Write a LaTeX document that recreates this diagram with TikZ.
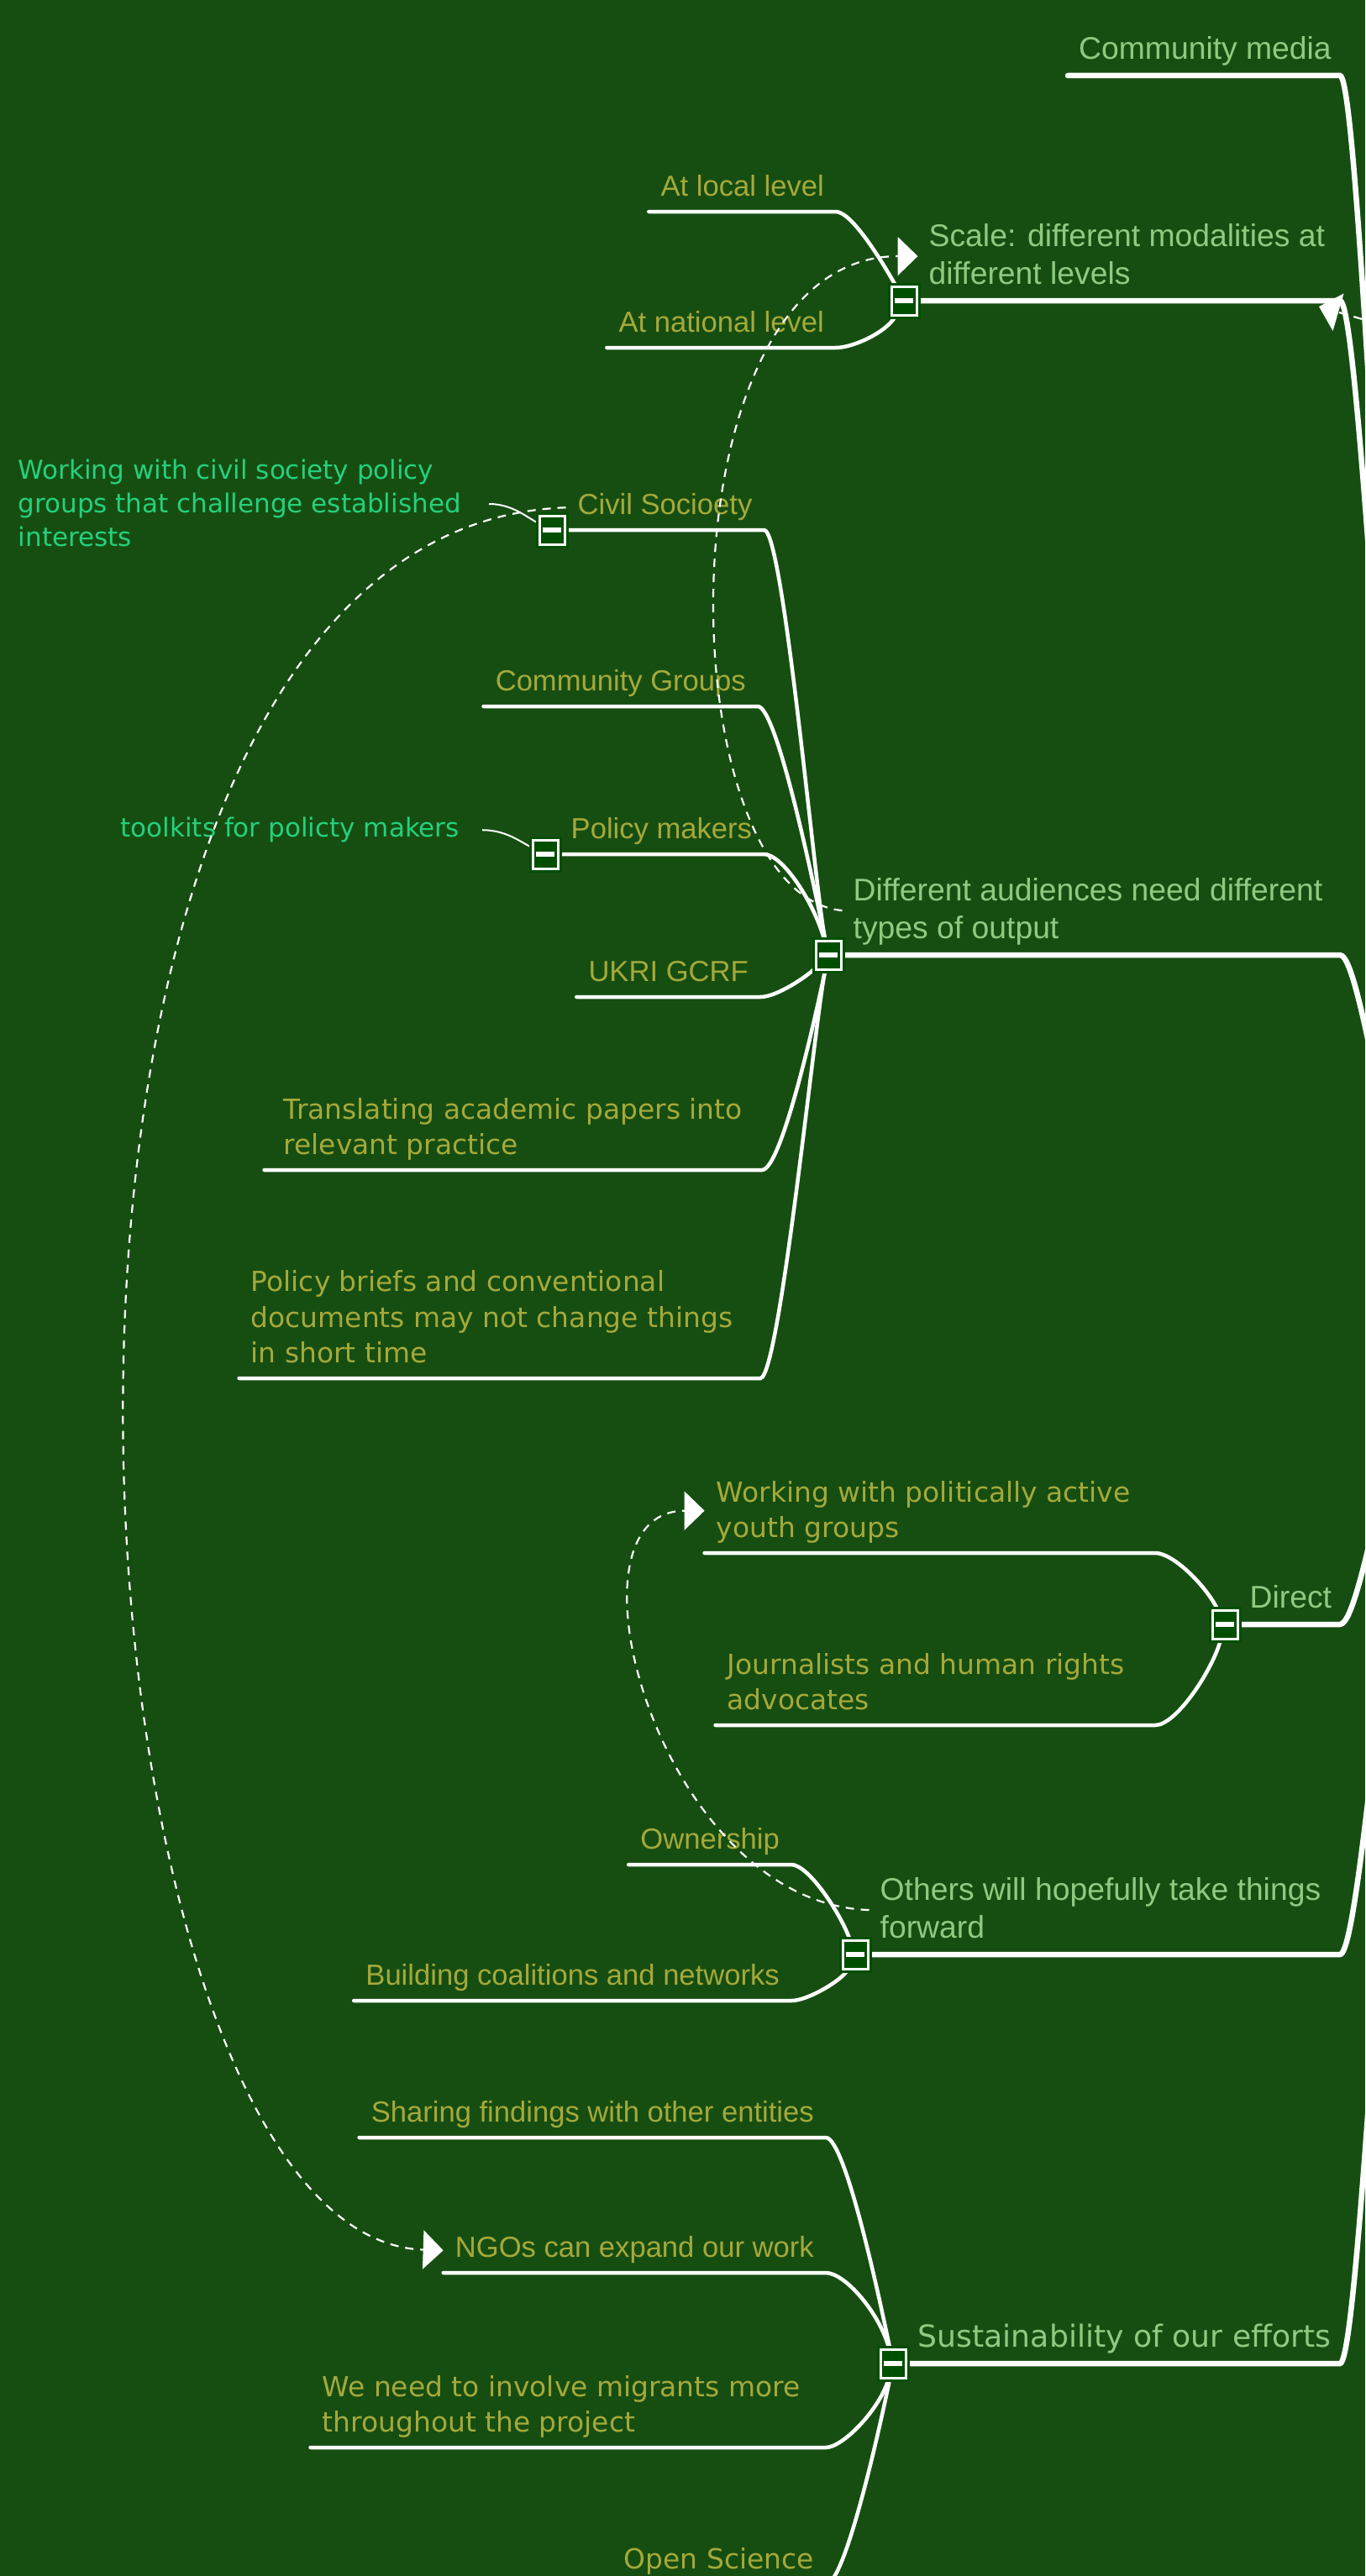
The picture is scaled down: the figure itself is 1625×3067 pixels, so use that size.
\documentclass[tikz,border=0pt]{standalone}
\usepackage{fontspec}
\usetikzlibrary{arrows.meta}
\newfontfamily\arialfont{Liberation Sans}
\newfontfamily\lucidafont{DejaVu Sans}
\definecolor{mapbg}{HTML}{164E12}
\definecolor{maintext}{HTML}{8ECB82}
\definecolor{subtext}{HTML}{A5A93A}
\definecolor{notetext}{HTML}{26D07C}
\definecolor{boxfill}{HTML}{004F00}
\newcommand{\topiclines}[1]{\begin{tabular}[b]{@{}l@{}}#1\end{tabular}}
\newcommand{\widelines}[2]{\begin{tabular}[b]{@{}p{#1}@{}}#2\end{tabular}}
\newcommand{\minus}{\textcolor{white}{\rule{22pt}{6pt}}}
\pgfdeclarelayer{back}
\pgfdeclarelayer{links}
\pgfsetlayers{back,links,main}
\tikzset{
  mainfont/.style={font=\arialfont\fontsize{37.3}{45}\selectfont},
  mainfontb/.style={font=\lucidafont\fontsize{36.2}{44}\selectfont},
  subfont/.style={font=\arialfont\fontsize{34.6}{42}\selectfont},
  subfontb/.style={font=\lucidafont\fontsize{32.9}{42.5}\selectfont},
  notefont/.style={font=\lucidafont\fontsize{31}{40}\selectfont},
  main/.style={text=maintext, inner xsep=13pt, inner ysep=10pt, text depth=9pt},
  sub/.style={text=subtext, inner xsep=14pt, inner ysep=10pt, text depth=8pt},
  note/.style={notefont, text=notetext, inner xsep=27pt, inner ysep=10pt, text depth=8pt},
  fold/.style={draw=white, line width=3pt, fill=boxfill, minimum width=30pt, minimum height=34pt, inner sep=0pt, preaction={draw=boxfill, line width=9pt}},
  mainline/.style={draw=white, line width=6.5pt, line cap=round},
  subline/.style={draw=white, line width=4.5pt, line cap=round},
  noteline/.style={draw=white, line width=2pt},
  rel/.style={draw=white, line width=2.2pt, dash pattern=on 10pt off 8pt, -{Triangle[width=46pt,length=24pt]}}
}
\begin{document}
\begin{tikzpicture}[x=1pt, y=-1pt]
    \begin{pgfonlayer}{back}
        \fill[mapbg] (0,0) rectangle (1625,3067);
    \end{pgfonlayer}
    \useasboundingbox (0,0) rectangle (1625,3067);
    \coordinate (edge) at (1595,0);
    \coordinate (root) at (1722,1560);
    \coordinate (scaletip) at (1570,365);
    \coordinate (offright) at (1690,400);

    \node[main, mainfont, anchor=south west] (media) at (1271,90) {Community media};

    \node[fold] (scalebox) at (1076,358) {\minus};
    \node[main, mainfont, anchor=south west] (scale) at (scalebox.east) {\topiclines{Scale: different modalities at\\different levels}};
    \node[sub, subfont, anchor=south east] (local) at (995,252) {At local level};
    \node[sub, subfont, anchor=south east] (national) at (995,414) {At national level};

    \node[fold] (diffbox) at (986,1137) {\minus};
    \node[main, mainfont, anchor=south west] (diff) at (diffbox.east) {\topiclines{Different audiences need different\\types of output}};
    \node[fold] (civilbox) at (657,631) {\minus};
    \node[sub, subfont, anchor=south west] (civil) at (civilbox.east) {Civil Socioety};
    \node[note, anchor=base east] (civilnote) at (582,650) {\widelines{533pt}{Working with civil society policy\\groups that challenge established\\interests}};
    \node[sub, subfont, anchor=south east] (groups) at (902,841) {Community Groups};
    \node[fold] (policybox) at (649,1017) {\minus};
    \node[sub, subfont, anchor=south west] (policy) at (policybox.east) {Policy makers};
    \node[note, anchor=base east] (toolnote) at (574,996) {toolkits for policty makers};
    \node[sub, subfont, anchor=south east] (ukri) at (905,1187) {UKRI GCRF};
    \node[sub, subfontb, anchor=south east, inner xsep=23pt] (translate) at (907,1393) {\topiclines{Translating academic papers into\\relevant practice}};
    \node[sub, subfontb, anchor=south east] (briefs) at (905,1641) {\widelines{592pt}{Policy briefs and conventional\\documents may not change things\\in short time}};

    \node[fold] (directbox) at (1458,1934) {\minus};
    \node[main, mainfont, anchor=south west] (direct) at (directbox.east) {Direct};
    \node[sub, subfontb, anchor=south east] (youth) at (1375,1849) {\widelines{508pt}{Working with politically active\\youth groups}};
    \node[sub, subfontb, anchor=south east] (press) at (1375,2054) {\widelines{495pt}{Journalists and human rights\\advocates}};

    \node[fold] (othersbox) at (1018,2327) {\minus};
    \node[main, mainfont, anchor=south west] (others) at (othersbox.east) {\topiclines{Others will hopefully take things\\forward}};
    \node[sub, subfont, anchor=south east] (owner) at (942,2220) {Ownership};
    \node[sub, subfont, anchor=south east] (coalition) at (942,2382) {Building coalitions and networks};

    \node[fold] (sustbox) at (1063,2814) {\minus};
    \node[main, mainfontb, anchor=south west] (sust) at (sustbox.east) {Sustainability of our efforts};
    \node[sub, subfont, anchor=south east] (sharing) at (983,2545) {Sharing findings with other entities};
    \node[sub, subfont, anchor=south east] (ngos) at (983,2706) {NGOs can expand our work};
    \node[sub, subfontb, anchor=south east] (migrants) at (983,2914) {\widelines{585pt}{We need to involve migrants more\\throughout the project}};
    \node[sub, subfontb, anchor=south east] (science) at (983,3077) {Open Science};

    \begin{pgfonlayer}{links}
        \draw[mainline] (media.south west) -- (media.south west -| edge) .. controls +(30,0) and +(-50,0) .. (root);
        \draw[mainline] (scale.south west) -- (scale.south west -| edge) .. controls +(30,0) and +(-50,0) .. (root);
        \draw[mainline] (diff.south west) -- (diff.south west -| edge) .. controls +(30,0) and +(-50,0) .. (root);
        \draw[mainline] (direct.south west) -- (direct.south west -| edge) .. controls +(30,0) and +(-50,0) .. (root);
        \draw[mainline] (others.south west) -- (others.south west -| edge) .. controls +(30,0) and +(-50,0) .. (root);
        \draw[mainline] (sust.south west) -- (sust.south west -| edge) .. controls +(30,0) and +(-50,0) .. (root);

        \draw[subline] (local.south west) -- (local.south east) .. controls +(20,0) and +(-21,-38) .. (scalebox);
        \draw[subline] (national.south west) -- (national.south east) .. controls +(20,0) and +(-21,38) .. (scalebox);

        \draw[subline] (civil.south west) -- (civil.south east) .. controls +(23,0) and +(-16,-77) .. (diffbox);
        \draw[subline] (groups.south west) -- (groups.south east) .. controls +(23,0) and +(-16,-77) .. (diffbox);
        \draw[subline] (policy.south west) -- (policy.south east) .. controls +(23,0) and +(-16,-60) .. (diffbox);
        \draw[subline] (ukri.south west) -- (ukri.south east) .. controls +(20,0) and +(-25,25) .. (diffbox);
        \draw[subline] (translate.south west) -- (translate.south east) .. controls +(23,0) and +(-16,77) .. (diffbox);
        \draw[subline] (briefs.south west) -- (briefs.south east) .. controls +(23,0) and +(-16,77) .. (diffbox);
        \draw[noteline] (civilnote.east) .. controls +(28,0) and +(-30,-15) .. (civilbox);
        \draw[noteline] (toolnote.east) .. controls +(28,0) and +(-30,-15) .. (policybox);

        \draw[subline] (youth.south west) -- (youth.south east) .. controls +(22,0) and +(-22,-45) .. (directbox);
        \draw[subline] (press.south west) -- (press.south east) .. controls +(25,0) and +(-15,55) .. (directbox);

        \draw[subline] (owner.south west) -- (owner.south east) .. controls +(20,0) and +(-18,-50) .. (othersbox);
        \draw[subline] (coalition.south west) -- (coalition.south east) .. controls +(20,0) and +(-15,30) .. (othersbox);

        \draw[subline] (sharing.south west) -- (sharing.south east) .. controls +(23,0) and +(-16,-77) .. (sustbox);
        \draw[subline] (ngos.south west) -- (ngos.south east) .. controls +(23,0) and +(-16,-60) .. (sustbox);
        \draw[subline] (migrants.south west) -- (migrants.south east) .. controls +(20,0) and +(-16,55) .. (sustbox);
        \draw[subline] (science.south west) -- (science.south east) .. controls +(23,0) and +(-16,77) .. (sustbox);
    \end{pgfonlayer}

    \draw[rel] (diff.west) .. controls +(-210,-20) and +(-310,0) .. (scale.west);
    \draw[rel] (civil.west) .. controls +(-733,26) and +(-470,-15) .. (ngos.west);
    \draw[rel] (others.west) .. controls +(-250,-8) and +(-180,0) .. (youth.west);
    \draw[rel] (offright) -- (scaletip);
\end{tikzpicture}
\end{document}
